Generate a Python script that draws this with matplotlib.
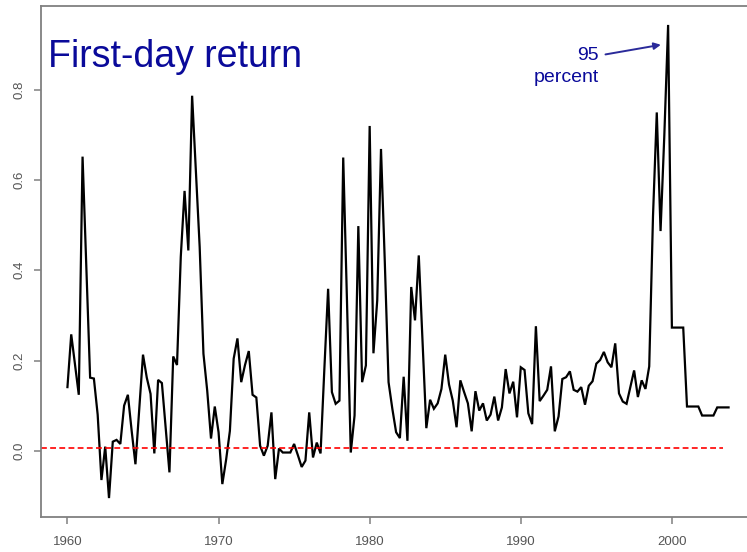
import numpy as np
import matplotlib
matplotlib.use("Agg")
import matplotlib.pyplot as plt

plt.rcParams['font.family'] = ['Liberation Sans', 'DejaVu Sans']

# Quarterly first-day returns, 1960Q1 .. 2003Q4
start_year = 1960
returns = [
    0.141, 0.258, 0.19, 0.124,     # 1960
    0.652, 0.41, 0.162, 0.16,      # 1961
    0.08, -0.065, 0.009, -0.105,   # 1962
    0.02, 0.024, 0.015, 0.10,      # 1963
    0.124, 0.044, -0.03, 0.093,    # 1964
    0.213, 0.162, 0.126, -0.006,   # 1965
    0.157, 0.15, 0.05, -0.048,     # 1966
    0.209, 0.19, 0.43, 0.576,      # 1967
    0.444, 0.787, 0.62, 0.452,     # 1968
    0.215, 0.133, 0.027, 0.098,    # 1969
    0.041, -0.074, -0.02, 0.044,   # 1970
    0.204, 0.249, 0.152, 0.19,     # 1971
    0.221, 0.124, 0.118, 0.011,    # 1972
    -0.011, 0.011, 0.085, -0.063,  # 1973
    0.005, -0.004, -0.004, -0.004, # 1974
    0.015, -0.01, -0.036, -0.022,  # 1975
    0.085, -0.015, 0.018, -0.006,  # 1976
    0.18, 0.359, 0.13, 0.104,      # 1977
    0.111, 0.65, 0.33, -0.004,     # 1978
    0.078, 0.498, 0.152, 0.189,    # 1979
    0.72, 0.216, 0.333, 0.669,     # 1980
    0.42, 0.152, 0.093, 0.041,     # 1981
    0.028, 0.164, 0.022, 0.363,    # 1982
    0.289, 0.433, 0.24, 0.05,      # 1983
    0.113, 0.093, 0.105, 0.137,    # 1984
    0.213, 0.147, 0.111, 0.052,    # 1985
    0.156, 0.13, 0.105, 0.043,     # 1986
    0.132, 0.089, 0.105, 0.067,    # 1987
    0.08, 0.12, 0.067, 0.096,      # 1988
    0.181, 0.127, 0.153, 0.074,    # 1989
    0.185, 0.179, 0.083, 0.059,    # 1990
    0.276, 0.11, 0.122, 0.135,     # 1991
    0.187, 0.043, 0.076, 0.159,    # 1992
    0.163, 0.176, 0.135, 0.131,    # 1993
    0.141, 0.102, 0.144, 0.154,    # 1994
    0.193, 0.201, 0.219, 0.196,    # 1995
    0.185, 0.238, 0.127, 0.109,    # 1996
    0.104, 0.141, 0.178, 0.119,    # 1997
    0.156, 0.137, 0.187, 0.52,     # 1998
    0.75, 0.487, 0.70, 0.944,      # 1999
    0.273, 0.273, 0.273, 0.273,    # 2000
    0.098, 0.098, 0.098, 0.098,    # 2001
    0.078, 0.078, 0.078, 0.078,    # 2002
    0.096, 0.096, 0.096, 0.096,    # 2003
]
years = start_year + np.arange(len(returns)) / 4.0

ref_level = 0.005
ref_end = 2003.4
xticks = [1960, 1970, 1980, 1990, 2000]
yticks = [0.0, 0.2, 0.4, 0.6, 0.8]
title_text = "First-day return"
note_text = "95\npercent"

fig = plt.figure(figsize=(7.47, 5.52), dpi=100)
ax = fig.add_axes([41/747, 1 - 517/552, (755 - 41)/747, (517 - 6)/552])

ax.plot(years, returns, color='black', lw=1.6, solid_joinstyle='miter')

xr = years[-1] - years[0]
yr = max(returns) - min(returns)
x0 = years[0] - 0.04 * xr
ax.set_xlim(x0, years[-1] + 0.04 * xr)
ax.set_ylim(min(returns) - 0.04 * yr, max(returns) + 0.04 * yr)

ax.plot([x0, ref_end], [ref_level, ref_level], color='red', lw=1.2,
        ls=(0, (3.5, 2.0)))

gray = '#808080'
for s in ax.spines.values():
    s.set_color(gray)
    s.set_linewidth(1.3)

ax.set_xticks(xticks)
ax.set_yticks(yticks)
ax.set_xticklabels([str(t) for t in xticks])
ax.set_yticklabels([f"{t:.1f}" for t in yticks], rotation=90, va='center')
ax.tick_params(axis='both', direction='out', length=5, width=1.1,
               color=gray, labelcolor='#555555', labelsize=9.5)
ax.tick_params(axis='x', pad=9)
ax.tick_params(axis='y', pad=6)

ax.text(0.01, 0.88, title_text, transform=ax.transAxes, color='#0A0A9A',
        fontsize=27, ha='left', va='baseline')

ax.annotate(note_text, xy=(1999.27, 0.90), xytext=(1995.15, 0.852),
            ha='right', va='center', color='#0A0A9A', fontsize=14,
            multialignment='right', linespacing=1.35,
            arrowprops=dict(arrowstyle='-|>', color='#2A2A9A', lw=1.4,
                            mutation_scale=10, shrinkA=3, shrinkB=0,
                            relpos=(1.0, 0.78)))

fig.savefig("out.png", dpi=100)
